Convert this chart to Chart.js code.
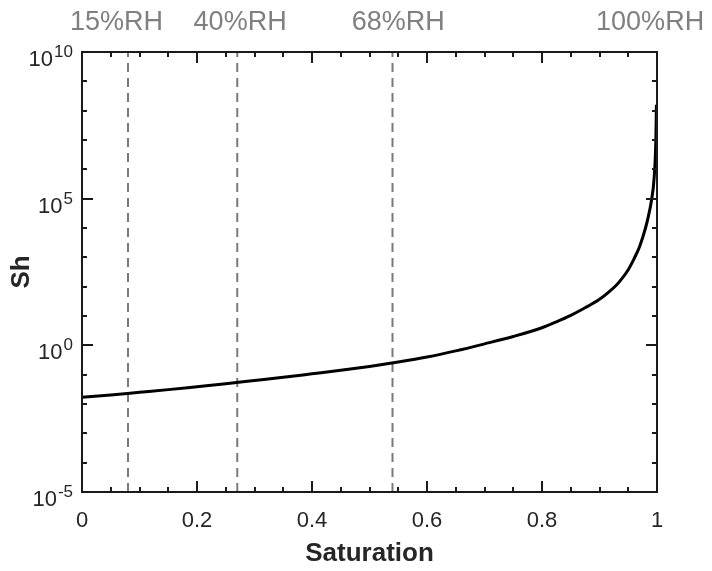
<!DOCTYPE html>
<html>
<head>
<meta charset="utf-8">
<title>Sh vs Saturation</title>
<script src="https://cdn.jsdelivr.net/npm/chart.js@4"></script>
<style>
  html, body { margin: 0; padding: 0; background: #fff; }
  canvas { display: block; }
</style>
</head>
<body>
<canvas id="shChart" width="712" height="571"></canvas>
<script>
'use strict';

// curve: saturation vs Sh
const saturation = [0, 0.05, 0.1, 0.15, 0.2, 0.25, 0.3, 0.35, 0.4, 0.45, 0.5, 0.55, 0.6, 0.65,
                    0.7, 0.75, 0.8, 0.825, 0.85, 0.875, 0.9, 0.915, 0.93, 0.94, 0.95, 0.96,
                    0.97, 0.98, 0.985, 0.99, 0.995, 0.998, 0.999];
const shValues   = [0.0170, 0.0204, 0.0251, 0.0309, 0.0389, 0.0490, 0.0631, 0.0813, 0.107,
                    0.141, 0.191, 0.269, 0.398, 0.646, 1.12, 2.00, 3.98, 6.31, 10.5, 19.1,
                    37.2, 63.1, 117, 200, 380, 891, 2400, 1.0e4, 2.5e4, 7.9e4, 5.0e5, 1.0e7, 1.6e8];

// RH reference lines
const rhLines    = [0.08, 0.27, 0.54];
const rhLabels   = ['15%RH', '40%RH', '68%RH', '100%RH'];
const rhLabelPos = [0.06, 0.275, 0.55, 0.988];

// axes
const xMajor = [0, 0.2, 0.4, 0.6, 0.8, 1];
const xMinor = [0.05, 0.1, 0.15, 0.25, 0.3, 0.35, 0.45, 0.5, 0.55, 0.65, 0.7, 0.75, 0.85, 0.9, 0.95];
const yMajor = [1e-5, 1e0, 1e5, 1e10];
const yMinor = [1e-4, 1e-3, 1e-2, 1e-1, 1e1, 1e2, 1e3, 1e4, 1e6, 1e7, 1e8, 1e9];

const FONT = "'Liberation Sans', Arial, Helvetica, sans-serif";
const INK  = '#262626';

// box, inward ticks, 10^n labels and RH labels
const matlabAxes = {
  id: 'matlabAxes',
  afterDraw(chart) {
    const { ctx, chartArea: a, scales: { x, y } } = chart;
    ctx.save();
    ctx.strokeStyle = '#1a1a1a';
    ctx.lineWidth = 2;
    ctx.lineCap = 'butt';

    ctx.beginPath();
    const tick = (vals, len) => {
      vals.forEach(v => {
        const px = Math.round(x.getPixelForValue(v));
        ctx.moveTo(px, a.bottom); ctx.lineTo(px, a.bottom - len);
        ctx.moveTo(px, a.top);    ctx.lineTo(px, a.top + len);
      });
    };
    const ytick = (vals, len) => {
      vals.forEach(v => {
        const py = Math.round(y.getPixelForValue(v));
        ctx.moveTo(a.left, py);  ctx.lineTo(a.left + len, py);
        ctx.moveTo(a.right, py); ctx.lineTo(a.right - len, py);
      });
    };
    tick(xMajor, 11); tick(xMinor, 5);
    ytick(yMajor, 11); ytick(yMinor, 5);
    ctx.stroke();

    ctx.strokeRect(a.left, a.top, a.right - a.left, a.bottom - a.top);

    // y tick labels as 10 with superscript exponent
    ctx.fillStyle = INK;
    ctx.textBaseline = 'alphabetic';
    ctx.textAlign = 'right';
    const rightEdge = a.left - 9;
    yMajor.forEach(v => {
      const py = y.getPixelForValue(v);
      const exp = String(Math.round(Math.log10(v)));
      ctx.font = '17px ' + FONT;
      const w = ctx.measureText(exp).width;
      ctx.fillText(exp, rightEdge, py + 5);
      ctx.font = '22px ' + FONT;
      ctx.fillText('10', rightEdge - w - 1, py + 14);
    });

    // RH labels above the box
    ctx.fillStyle = '#808080';
    ctx.textAlign = 'center';
    ctx.font = '27px ' + FONT;
    rhLabels.forEach((t, i) => {
      ctx.fillText(t, x.getPixelForValue(rhLabelPos[i]), 30);
    });
    ctx.restore();
  }
};

const rhDatasets = rhLines.map(v => ({
  data: [{ x: v, y: yMajor[0] }, { x: v, y: yMajor[yMajor.length - 1] }],
  borderColor: '#7a7a7a',
  borderWidth: 2,
  borderDash: [9, 6],
  pointRadius: 0,
  showLine: true
}));

new Chart(document.getElementById('shChart'), {
  type: 'scatter',
  data: {
    datasets: [{
      data: saturation.map((s, i) => ({ x: s, y: shValues[i] })),
      borderColor: '#000',
      borderWidth: 3,
      pointRadius: 0,
      showLine: true,
      cubicInterpolationMode: 'monotone'
    }, ...rhDatasets]
  },
  options: {
    responsive: false,
    devicePixelRatio: 1,
    animation: false,
    layout: { padding: { left: 0, top: 52, right: 55, bottom: 0 } },
    scales: {
      x: {
        type: 'linear',
        min: 0, max: 1,
        afterBuildTicks: s => { s.ticks = xMajor.map(v => ({ value: v })); },
        afterFit: s => { s.height = 79; },
        grid: { display: false, drawTicks: false },
        border: { display: false },
        ticks: {
          color: INK,
          padding: 16,
          maxRotation: 0,
          font: { family: FONT, size: 22 },
          callback: v => String(v)
        },
        title: {
          display: true,
          text: 'Saturation',
          color: INK,
          padding: { top: 0, bottom: 2 },
          font: { family: FONT, size: 26, weight: 'bold' }
        }
      },
      y: {
        type: 'logarithmic',
        min: yMajor[0], max: yMajor[yMajor.length - 1],
        afterBuildTicks: s => { s.ticks = yMajor.map(v => ({ value: v })); },
        afterFit: s => { s.width = 82; },
        grid: { display: false, drawTicks: false },
        border: { display: false },
        ticks: { display: false },
        title: {
          display: true,
          text: 'Sh',
          color: INK,
          padding: { top: 6, bottom: 0 },
          font: { family: FONT, size: 26, weight: 'bold' }
        }
      }
    },
    plugins: {
      legend: { display: false },
      tooltip: { enabled: false }
    }
  },
  plugins: [matlabAxes]
});
</script>
</body>
</html>
